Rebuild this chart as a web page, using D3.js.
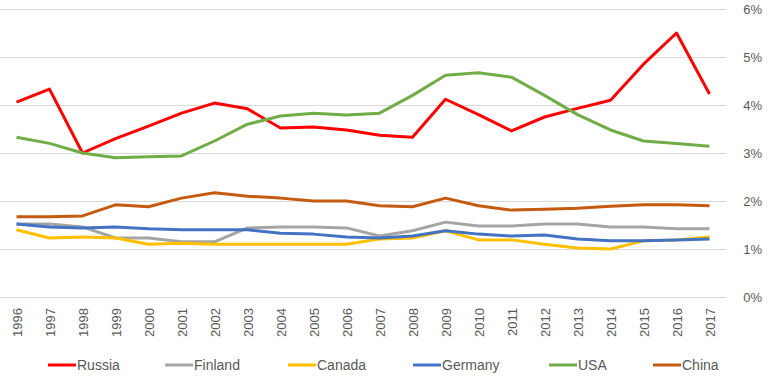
<!DOCTYPE html>
<html lang="en">
<head>
<meta charset="UTF-8">
<title>line chart</title>
<script src="https://cdn.jsdelivr.net/npm/d3@7"></script>
<style>
  body { margin: 0; background: #fff; }
  text { font-family: "Liberation Sans Narrow", "Liberation Sans", Arial, sans-serif; fill: #595959; }
</style>
</head>
<body>
<script>
// data
const years = ["1996","1997","1998","1999","2000","2001","2002","2003","2004","2005","2006",
               "2007","2008","2009","2010","2011","2012","2013","2014","2015","2016","2017"];
const russia  = [4.06,4.33,3.00,3.30,3.56,3.83,4.04,3.92,3.52,3.54,3.48,3.37,3.33,4.12,3.80,3.46,3.75,3.93,4.10,4.85,5.50,4.23];
const finland = [1.52,1.52,1.46,1.23,1.23,1.15,1.15,1.44,1.46,1.46,1.44,1.27,1.38,1.56,1.48,1.48,1.52,1.52,1.46,1.46,1.42,1.42];
const canada  = [1.40,1.23,1.25,1.23,1.10,1.12,1.10,1.10,1.10,1.10,1.10,1.21,1.23,1.38,1.19,1.19,1.10,1.02,1.00,1.17,1.19,1.25];
const germany = [1.52,1.46,1.44,1.46,1.42,1.40,1.40,1.40,1.33,1.31,1.25,1.23,1.27,1.38,1.31,1.27,1.29,1.21,1.17,1.17,1.19,1.21];
const usa     = [3.33,3.20,3.00,2.90,2.92,2.94,3.25,3.60,3.77,3.83,3.79,3.83,4.20,4.62,4.67,4.58,4.20,3.80,3.48,3.25,3.20,3.14];
const china   = [1.67,1.67,1.69,1.92,1.88,2.06,2.17,2.10,2.06,2.00,2.00,1.90,1.88,2.06,1.90,1.81,1.83,1.85,1.89,1.92,1.92,1.90];
const yTicks  = [0, 1, 2, 3, 4, 5, 6];

const series = [
  { name: "Russia",  values: russia,  color: "#ff0000" },
  { name: "Finland", values: finland, color: "#a5a5a5" },
  { name: "Canada",  values: canada,  color: "#ffc000" },
  { name: "Germany", values: germany, color: "#4472c4" },
  { name: "USA",     values: usa,     color: "#70ad47" },
  { name: "China",   values: china,   color: "#c55a11" }
];

const width = 768, height = 381;
const plot = { left: 0, right: 726, top: 9, bottom: 297 };

const svg = d3.select("body").append("svg")
    .attr("width", width)
    .attr("height", height);

const x = d3.scaleBand().domain(years).range([plot.left, plot.right]);
const y = d3.scaleLinear().domain([0, 6]).range([plot.bottom, plot.top]);

// gridlines
svg.append("g")
  .selectAll("line")
  .data(yTicks)
  .join("line")
    .attr("x1", plot.left).attr("x2", plot.right)
    .attr("y1", d => y(d) + 0.5).attr("y2", d => y(d) + 0.5)
    .attr("stroke", "#d9d9d9").attr("stroke-width", 1);

// right axis labels
svg.append("g")
  .selectAll("text")
  .data(yTicks)
  .join("text")
    .attr("x", 762)
    .attr("y", d => y(d))
    .attr("dy", "0.35em")
    .attr("text-anchor", "end")
    .style("font-size", "13px")
    .text(d => d + "%");

// year labels, rotated
svg.append("g")
  .selectAll("text")
  .data(years)
  .join("text")
    .attr("transform", d => `translate(${x(d) + x.bandwidth() / 2 + 5},${plot.bottom + 11}) rotate(-90)`)
    .attr("text-anchor", "end")
    .style("font-size", "13px")
    .text(d => d);

const line = d3.line()
    .x((d, i) => x(years[i]) + x.bandwidth() / 2)
    .y(d => y(d));

svg.append("g")
  .selectAll("path")
  .data(series)
  .join("path")
    .attr("fill", "none")
    .attr("stroke", d => d.color)
    .attr("stroke-width", 3)
    .attr("stroke-linejoin", "round")
    .attr("d", d => line(d.values));

// legend
const legendX = [48, 165, 288, 413, 549, 653];
const legend = svg.append("g")
  .selectAll("g")
  .data(series)
  .join("g")
    .attr("transform", (d, i) => `translate(${legendX[i]},365)`);

legend.append("line")
    .attr("x1", 0).attr("x2", 28)
    .attr("stroke", d => d.color)
    .attr("stroke-width", 3);

legend.append("text")
    .attr("x", 29)
    .attr("dy", "0.35em")
    .style("font-size", "14px")
    .text(d => d.name);
</script>
</body>
</html>
